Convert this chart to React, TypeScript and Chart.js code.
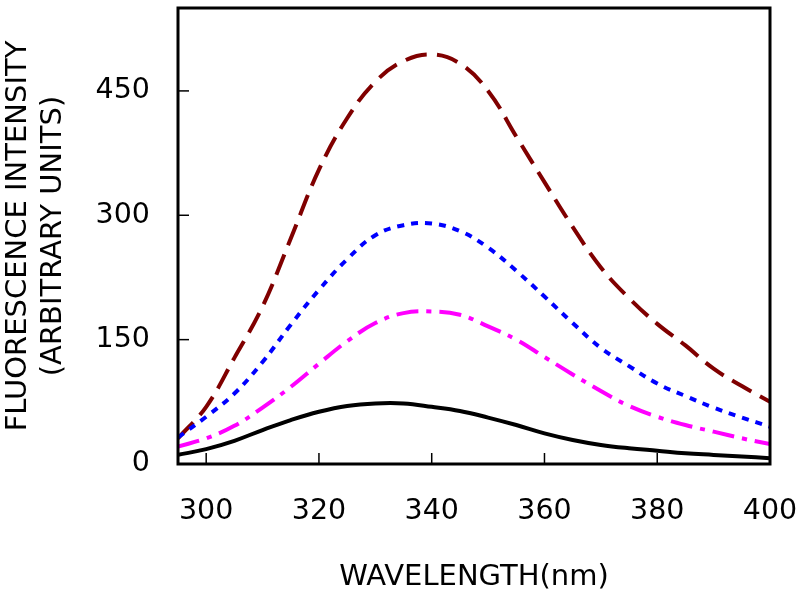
import { useEffect, useRef } from "react";
import { Chart, registerables } from "chart.js";

Chart.register(...registerables);

const wavelengths = [295, 300, 305, 310, 315, 320, 325, 330, 335, 340, 345, 350, 355, 360, 365, 370, 375, 380, 385, 390, 395, 400];
const blackSeries = [11, 18, 28, 41, 53, 63, 70, 73, 73, 69, 64, 56, 47, 37, 29, 23, 19, 16, 13, 11, 9, 7];
const magentaSeries = [21, 31, 46, 68, 93, 121, 148, 170, 182, 184, 180, 166, 150, 129, 108, 88, 70, 57, 47, 39, 31, 24];
const blueSeries = [32, 57, 85, 123, 168, 210, 247, 276, 288, 290, 281, 261, 233, 202, 170, 140, 118, 97, 82, 68, 56, 45];
const brownSeries = [31, 69, 128, 190, 272, 355, 417, 461, 486, 494, 483, 450, 395, 340, 286, 237, 200, 169, 143, 115, 94, 75];

const xTicks = [300, 320, 340, 360, 380, 400];
const yTicks = [0, 150, 300, 450];
const xTitle = "WAVELENGTH(nm)";
const yTitle = ["FLUORESCENCE INTENSITY", "(ARBITRARY UNITS)"];

const FONT = "'DejaVu Sans', Verdana, sans-serif";

const framePlugin = {
  id: "frame",
  afterDatasetsDraw(chart: any) {
    const { ctx, chartArea } = chart;
    const { left, right, top, bottom } = chartArea;
    const xs = chart.scales.x;
    const ys = chart.scales.y;
    ctx.save();
    ctx.strokeStyle = "#000";
    ctx.lineWidth = 1.5;
    ctx.setLineDash([]);
    xTicks.forEach((v) => {
      const px = xs.getPixelForValue(v);
      ctx.beginPath();
      ctx.moveTo(px, bottom);
      ctx.lineTo(px, bottom - 11);
      ctx.stroke();
    });
    yTicks.forEach((v) => {
      const py = ys.getPixelForValue(v);
      ctx.beginPath();
      ctx.moveTo(left, py);
      ctx.lineTo(left + 11, py);
      ctx.stroke();
    });
    ctx.lineWidth = 3;
    ctx.strokeRect(left, top, right - left, bottom - top);
    ctx.restore();
  },
};

function mk(values: number[]) {
  return wavelengths.map((w, i) => ({ x: w, y: values[i] }));
}

function zeroPad(s: any) {
  s.paddingTop = 0;
  s.paddingBottom = 0;
  s.paddingLeft = 0;
  s.paddingRight = 0;
}

export default function App() {
  const ref = useRef<HTMLCanvasElement | null>(null);
  useEffect(() => {
    if (!ref.current) return;
    const common = {
      fill: false,
      pointRadius: 0,
      borderWidth: 4,
      tension: 0.4,
    };
    const chart = new Chart(ref.current, {
      type: "line",
      data: {
        datasets: [
          { ...common, label: "black", data: mk(blackSeries), borderColor: "#000000", borderDash: [] },
          { ...common, label: "magenta", data: mk(magentaSeries), borderColor: "#ff00ff", borderDash: [22, 8, 5, 8] },
          { ...common, label: "blue", data: mk(blueSeries), borderColor: "#0000ff", borderDash: [7, 7] },
          { ...common, label: "brown", data: mk(brownSeries), borderColor: "#800000", borderDash: [22, 10] },
        ],
      },
      options: {
        animation: false,
        responsive: true,
        maintainAspectRatio: false,
        layout: { padding: { top: 8, right: 30, left: 0, bottom: 0 } },
        plugins: { legend: { display: false }, tooltip: { enabled: false } },
        scales: {
          x: {
            type: "linear",
            min: 295,
            max: 400,
            afterBuildTicks: (s: any) => {
              s.ticks = xTicks.map((v) => ({ value: v }));
            },
            afterFit: (s: any) => {
              s.height = 133;
              zeroPad(s);
            },
            grid: { display: false, drawTicks: false },
            border: { display: false },
            ticks: { color: "#000", padding: 30, font: { family: FONT, size: 28.5 }, maxRotation: 0 },
            title: {
              display: true,
              text: xTitle,
              color: "#000",
              font: { family: FONT, size: 29 },
              padding: { top: 0, bottom: 2 },
            },
          },
          y: {
            type: "linear",
            min: 0,
            max: 550,
            afterBuildTicks: (s: any) => {
              s.ticks = yTicks.map((v) => ({ value: v }));
            },
            afterFit: (s: any) => {
              s.width = 178;
              zeroPad(s);
            },
            grid: { display: false, drawTicks: false },
            border: { display: false },
            ticks: { color: "#000", padding: 28, font: { family: FONT, size: 28.5 } },
            title: {
              display: true,
              text: yTitle,
              color: "#000",
              font: { family: FONT, size: 29 },
              padding: { top: 1, bottom: 0 },
            },
          },
        },
      },
      plugins: [framePlugin],
    });
    return () => chart.destroy();
  }, []);
  return (
    <div style={{ position: "fixed", left: 0, top: 0, width: 800, height: 597, background: "#fff" }}>
      <canvas ref={ref} />
    </div>
  );
}
